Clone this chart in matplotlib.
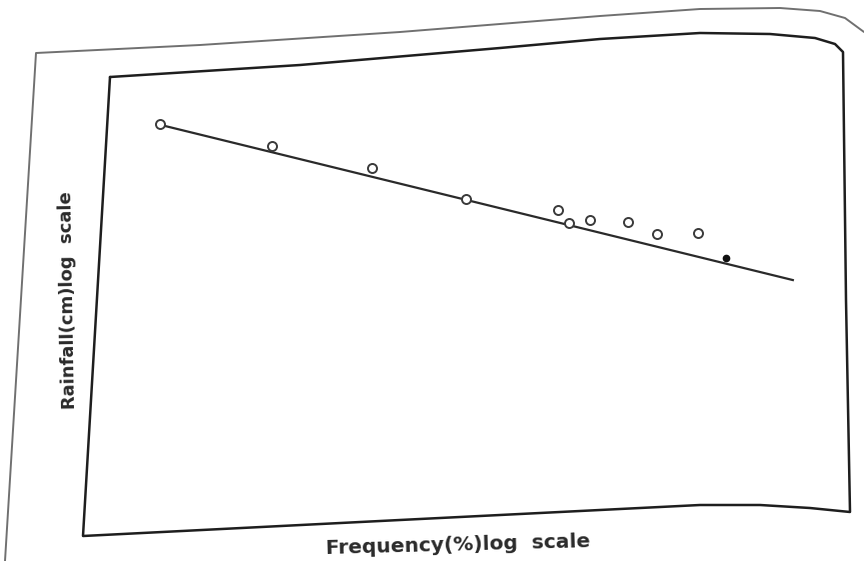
import numpy as np
import matplotlib
matplotlib.use("Agg")
import matplotlib.pyplot as plt
from matplotlib.lines import Line2D

freq = [1.47, 2.95, 5.5, 9.9, 17.5, 18.8, 21.4, 27.1, 32.4, 41.8]
rain = [490, 394, 317, 233, 209, 184, 191, 186, 165, 168]
# Highlighted (filled) point
freq_pt = [49.8]
rain_pt = [131]
# Fitted straight line end points
line_freq = [1.45, 75.5]
line_rain = [490, 105]

xlabel = "Frequency(%)log  scale"
ylabel = "Rainfall(cm)log  scale"

W, H = 864, 561
fig = plt.figure(figsize=(8.64, 5.61), dpi=100)
fig.patch.set_facecolor("white")


def frame(pts, color, lw):
    xs = [p[0] / W for p in pts]
    ys = [1 - p[1] / H for p in pts]
    fig.add_artist(Line2D(xs, ys, transform=fig.transFigure, color=color, lw=lw,
                          solid_joinstyle="round", solid_capstyle="round"))


# outer page frame (scanned, slightly warped)
frame([(5, 561), (36, 53), (200, 45), (400, 32), (600, 16), (700, 9),
       (780, 8), (820, 11), (845, 18), (864, 32)], "#707070", 1.4)
# inner plot frame (scanned, slightly warped)
frame([(110, 77), (300, 65), (500, 48), (600, 39), (700, 33), (770, 34),
       (815, 38), (835, 44), (843, 52), (846, 300), (850, 512), (810, 508),
       (760, 505), (700, 505), (400, 520), (83, 536), (110, 77)], "#1e1e1e", 1.8)

ax = fig.add_axes([98 / W, 1 - 518 / H, 740 / W, 466 / H])
ax.set_xscale("log")
ax.set_yscale("log")
ax.set_xlim(1, 100)
ax.set_ylim(10, 1000)
ax.patch.set_alpha(0)

ax.plot(line_freq, line_rain, color="#2a2a2a", lw=1.6)
ax.plot(freq, rain, linestyle="none", marker="o", markersize=6.5,
        markerfacecolor="white", markeredgecolor="#3a3a3a", markeredgewidth=1.4)
ax.plot(freq_pt, rain_pt, linestyle="none", marker="o", markersize=4.5,
        color="#111111")

ax.set_xticks([])
ax.set_yticks([])
ax.minorticks_off()
ax.tick_params(which="both", length=0, labelbottom=False, labelleft=False)
for s in ax.spines.values():
    s.set_visible(False)

fig.text(458 / W, 1 - 545 / H, xlabel, fontsize=14.5, fontweight="bold",
         color="#2a2a2a", ha="center", va="center", rotation=1.5)
fig.text(68 / W, 1 - 300 / H, ylabel, fontsize=13, fontweight="bold",
         color="#2a2a2a", ha="center", va="center", rotation=91)

fig.savefig("out.png", dpi=100, facecolor="white")
